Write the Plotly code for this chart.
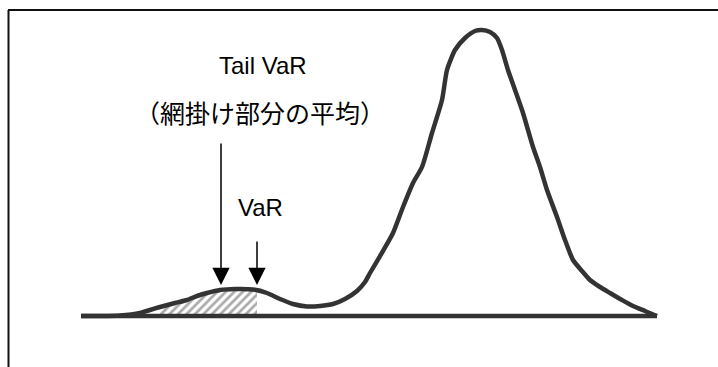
import plotly.graph_objects as go

# Density curve (arbitrary units: position along return axis, density height)
curve_x = [81, 100, 120, 140, 150, 160, 175, 187, 197, 207, 220, 235, 253, 267, 280, 293, 307, 320,
           333, 345, 357, 365, 370, 383, 393, 403, 413, 422, 432, 442, 447, 455, 465, 475, 482, 490,
           497, 502, 508, 515, 523, 533, 540, 547, 557, 565, 573, 582, 590, 600, 610, 622, 633, 645,
           652, 657]
curve_y = [0, 0, 0.5, 3, 6, 9, 13, 16, 20, 23, 26, 27, 26.5, 23, 17, 12, 9.5, 10,
           12, 17, 25, 34, 43, 65, 83, 109, 133, 149, 183, 216, 246, 266, 278, 285, 286, 284,
           278, 266, 246, 226, 203, 169, 149, 126, 99, 76, 56, 45, 36, 29, 23, 16, 10, 5,
           2, 0]

# Horizontal axis line
base_x = [81, 657]
base_y = [0, 0]

# Tail region (hatched, left of VaR)
tail_x = [160, 175, 187, 197, 207, 220, 235, 253, 257]
tail_y = [9, 13, 16, 20, 23, 26, 27, 26.5, 26]

# Arrows
tail_var_x = 221
var_x = 257
arrow_tip_y = 31
tail_var_arrow_top = 174
var_arrow_top = 76

labels = {
    "tail": "Tail VaR",
    "tail_sub": "（網掛け部分の平均）",
    "var": "VaR",
}

LINE = "#333333"

fig = go.Figure()

fig.add_trace(go.Scatter(
    x=tail_x, y=tail_y, mode="lines", line=dict(width=0, color="rgba(0,0,0,0)"),
    fill="tozeroy", fillcolor="white",
    fillpattern=dict(shape="/", fgcolor="#555555", bgcolor="white", size=6, solidity=0.45),
    hoverinfo="skip", showlegend=False))

fig.add_trace(go.Scatter(
    x=base_x, y=base_y, mode="lines", line=dict(width=4.5, color=LINE),
    hoverinfo="skip", showlegend=False))

fig.add_trace(go.Scatter(
    x=curve_x, y=curve_y, mode="lines",
    line=dict(width=4.5, color=LINE, shape="spline", smoothing=0.6),
    hoverinfo="skip", showlegend=False))

# arrows
for xa, top in [(tail_var_x, tail_var_arrow_top), (var_x, var_arrow_top)]:
    fig.add_annotation(x=xa, y=arrow_tip_y, ax=xa, ay=top, xref="x", yref="y",
                       axref="x", ayref="y", showarrow=True, arrowhead=2,
                       arrowsize=2.3, arrowwidth=1.5, arrowcolor="black", text="")

fig.add_annotation(x=263, y=251, xref="x", yref="y", text=labels["tail"], showarrow=False,
                   font=dict(family="Liberation Sans, Arial", size=24, color="black"))
fig.add_annotation(x=260, y=204, xref="x", yref="y", text=labels["tail_sub"], showarrow=False,
                   font=dict(family="Noto Sans CJK JP", size=25, color="black"))
fig.add_annotation(x=260, y=109, xref="x", yref="y", text=labels["var"], showarrow=False,
                   font=dict(family="Liberation Sans, Arial", size=24, color="black"))

# frame (top and left edges visible)
fig.add_shape(type="line", xref="paper", yref="paper", x0=8/718, x1=1, y0=1-10/367, y1=1-10/367,
              line=dict(color="#111111", width=2))
fig.add_shape(type="line", xref="paper", yref="paper", x0=8.5/718, x1=8.5/718, y0=0, y1=1-10/367,
              line=dict(color="#111111", width=2))

fig.update_layout(
    width=718, height=367, margin=dict(l=0, r=0, t=0, b=0),
    paper_bgcolor="white", plot_bgcolor="white",
    xaxis=dict(range=[0, 718], visible=False, fixedrange=True),
    yaxis=dict(range=[-51, 316], visible=False, fixedrange=True),
    showlegend=False,
)

fig.write_html("out.html", config={"displayModeBar": False},
               post_script="document.body.style.margin='0';document.body.style.overflow='hidden';")
